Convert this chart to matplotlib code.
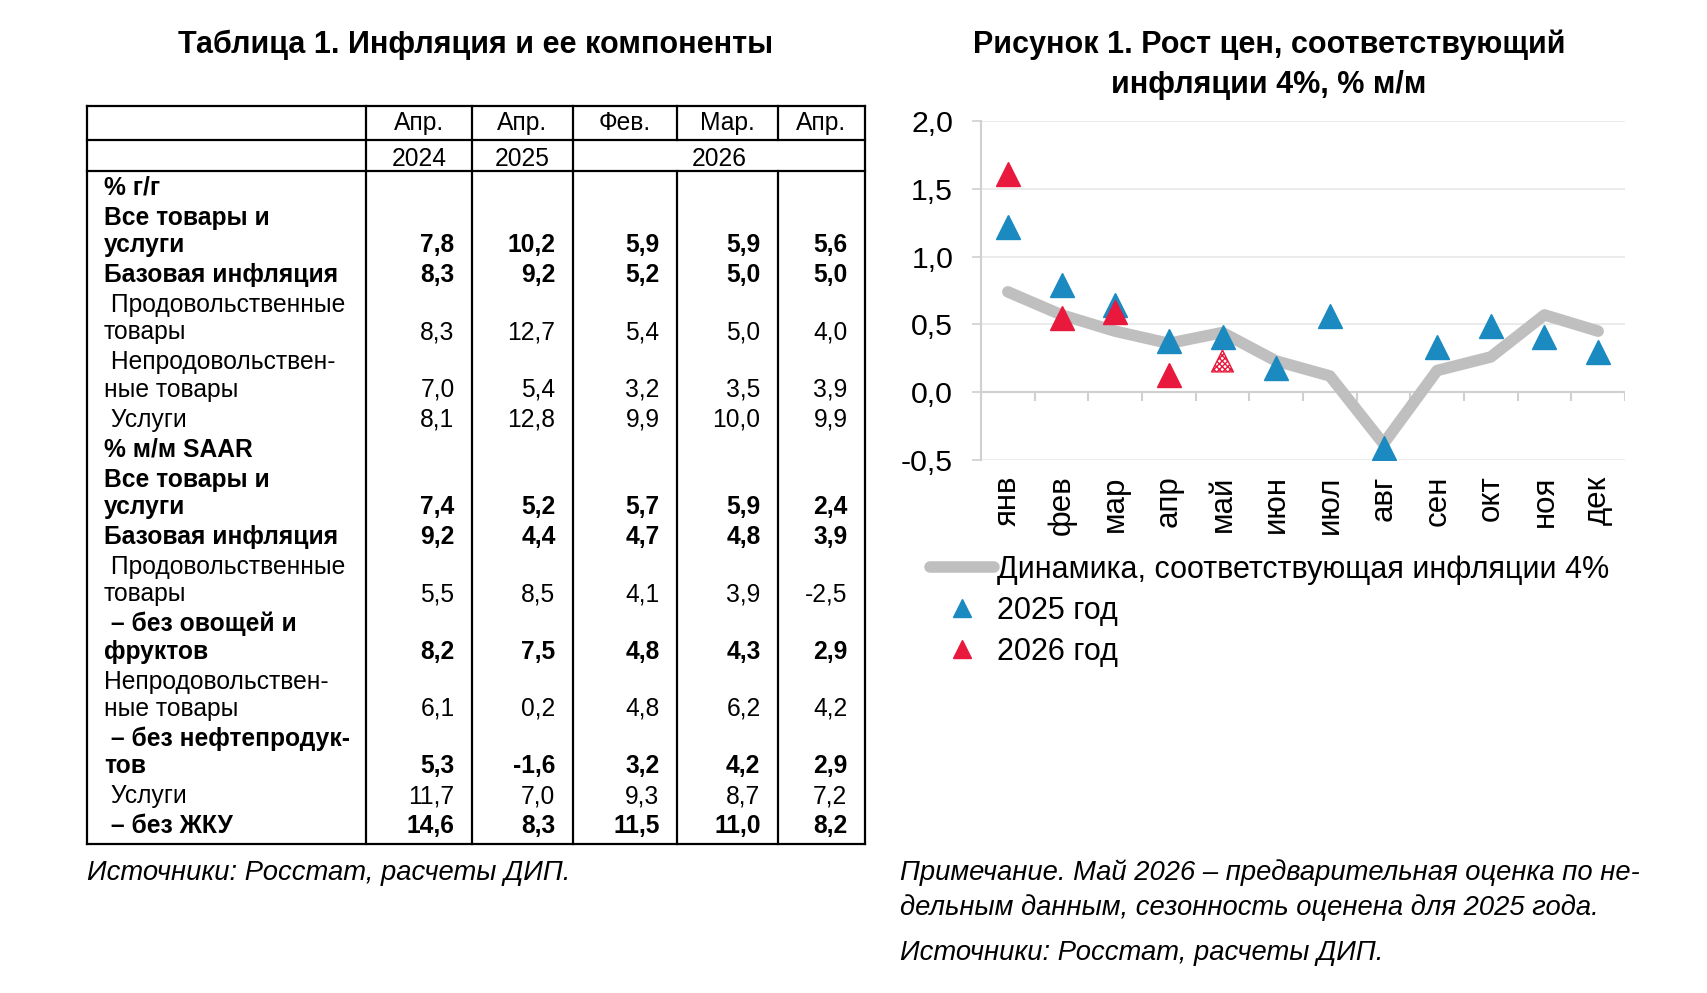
import numpy as np
import matplotlib
matplotlib.use('Agg')
import matplotlib.pyplot as plt
from matplotlib.lines import Line2D

plt.rcParams['font.family'] = ['Liberation Sans', 'DejaVu Sans']

W, H = 1707, 993
DPI = 100

# ---------------- DATA ----------------
table_title = 'Таблица 1. Инфляция и ее компоненты'
col_months = ['Апр.', 'Апр.', 'Фев.', 'Мар.', 'Апр.']
col_years = ['2024', '2025', '2026']
year_spans = [(0, 1), (1, 2), (2, 5)]

row_labels = [
    ['% г/г'],
    ['Все товары и', 'услуги'],
    ['Базовая инфляция'],
    [' Продовольственные', 'товары'],
    [' Непродовольствен-', 'ные товары'],
    [' Услуги'],
    ['% м/м SAAR'],
    ['Все товары и', 'услуги'],
    ['Базовая инфляция'],
    [' Продовольственные', 'товары'],
    [' – без овощей и', 'фруктов'],
    ['Непродовольствен-', 'ные товары'],
    [' – без нефтепродук-', 'тов'],
    [' Услуги'],
    [' – без ЖКУ'],
]
row_values = [
    None,
    [7.8, 10.2, 5.9, 5.9, 5.6],
    [8.3, 9.2, 5.2, 5.0, 5.0],
    [8.3, 12.7, 5.4, 5.0, 4.0],
    [7.0, 5.4, 3.2, 3.5, 3.9],
    [8.1, 12.8, 9.9, 10.0, 9.9],
    None,
    [7.4, 5.2, 5.7, 5.9, 2.4],
    [9.2, 4.4, 4.7, 4.8, 3.9],
    [5.5, 8.5, 4.1, 3.9, -2.5],
    [8.2, 7.5, 4.8, 4.3, 2.9],
    [6.1, 0.2, 4.8, 6.2, 4.2],
    [5.3, -1.6, 3.2, 4.2, 2.9],
    [11.7, 7.0, 9.3, 8.7, 7.2],
    [14.6, 8.3, 11.5, 11.0, 8.2],
]
row_bold = [True, True, True, False, False, False, True, True, True,
            False, True, False, True, False, True]
table_source = 'Источники: Росстат, расчеты ДИП.'

chart_title = ['Рисунок 1. Рост цен, соответствующий', 'инфляции 4%, % м/м']
months = ['янв', 'фев', 'мар', 'апр', 'май', 'июн', 'июл', 'авг', 'сен', 'окт', 'ноя', 'дек']
path_4pct = [0.74, 0.57, 0.45, 0.36, 0.44, 0.23, 0.12, -0.38, 0.16, 0.26, 0.57, 0.45]
mm_2025 = [1.22, 0.79, 0.64, 0.38, 0.41, 0.18, 0.56, -0.41, 0.33, 0.49, 0.41, 0.30]
mm_2026 = [1.61, 0.55, 0.59, 0.13]
mm_2026_est = [0.23]          # May 2026, preliminary estimate
yticks = [-0.5, 0.0, 0.5, 1.0, 1.5, 2.0]
legend_labels = ['Динамика, соответствующая инфляции 4%', '2025 год', '2026 год']
chart_note = ['Примечание. Май 2026 – предварительная оценка по не-',
              'дельным данным, сезонность оценена для 2025 года.']
chart_source = 'Источники: Росстат, расчеты ДИП.'

# ---------------- STYLE ----------------
C_GRAY = '#BFBFBF'
C_BLUE = '#1A8AC0'
C_RED = '#E8193C'
C_GRID = '#E8E8E8'
C_AX = '#D0D0D0'

FS_TITLE = 22
FS_TAB = 17.7
FS_TICK = 21.8
FS_LEG = 22
FS_NOTE = 19.7
MS = 17

def fmt(v):
    return f'{v:.1f}'.replace('.', ',')

fig = plt.figure(figsize=(W / DPI, H / DPI), dpi=DPI)
fig.patch.set_facecolor('white')

# overlay axes in pixel coordinates (for the table and texts)
bg = fig.add_axes([0, 0, 1, 1])
bg.set_xlim(0, W)
bg.set_ylim(H, 0)
bg.axis('off')

def T(x, yc, s, fs, **kw):
    # place text with its visual (cap) centre at yc
    off = 0.36 * fs * DPI / 72
    bg.text(x, yc + off, s, fontsize=fs, va='baseline', **kw)

# ---- table ----
T(476, 42, table_title, FS_TITLE, ha='center', fontweight='bold')

x_left = 87
col_edges = [366, 472, 573, 677, 778, 865]
x_right = col_edges[-1]
y_top, y_h1, y_h2, y_bot = 106, 140, 171, 844
lw_tab = 1.6
for yy in [y_top, y_h1, y_h2, y_bot]:
    bg.plot([x_left, x_right], [yy, yy], color='black', lw=lw_tab, solid_capstyle='projecting')
for xx in [x_left, x_right]:
    bg.plot([xx, xx], [y_top, y_bot], color='black', lw=lw_tab, solid_capstyle='projecting')
cols = list(zip(col_edges[:-1], col_edges[1:]))
span_edges = {cols[a][0] for a, b in year_spans}
for xx in col_edges[:-1]:
    bg.plot([xx, xx], [y_top, y_h1], color='black', lw=lw_tab)
    bg.plot([xx, xx], [y_h2, y_bot], color='black', lw=lw_tab)
    if xx in span_edges:
        bg.plot([xx, xx], [y_h1, y_h2], color='black', lw=lw_tab)

for (a, b), m in zip(cols, col_months):
    T((a + b) / 2, 121, m, FS_TAB, ha='center')
for (s0, s1), yv in zip(year_spans, col_years):
    T((cols[s0][0] + cols[s1 - 1][1]) / 2, 157, yv, FS_TAB, ha='center')

# body rows
y = 186
within, between = 27.3, 30.0
label_x = 104
for lines, vals, bold in zip(row_labels, row_values, row_bold):
    fw = 'bold' if bold else 'normal'
    for j, ln in enumerate(lines):
        if j > 0:
            y += within
        T(label_x, y, ln, FS_TAB, ha='left', fontweight=fw)
    if vals is not None:
        for (a, b), v in zip(cols, vals):
            T(b - 17.5, y, fmt(v), FS_TAB, ha='right', fontweight=fw)
    y += between

T(87, 870, table_source, FS_NOTE, ha='left', style='italic')

# ---- chart ----
for k, ln in enumerate(chart_title):
    T(1269, 42 + 40 * k, ln, FS_TITLE, ha='center', fontweight='bold')

ax_l, ax_r, ax_t, ax_b = 981, 1625, 121, 460
ax = fig.add_axes([ax_l / W, 1 - ax_b / H, (ax_r - ax_l) / W, (ax_b - ax_t) / H])
ax.set_facecolor('none')
x = np.arange(len(months))
ax.set_xlim(-0.5, len(months) - 0.5)
ax.set_ylim(yticks[0], yticks[-1])

for yt in yticks:
    if yt != 0:
        ax.axhline(yt, color=C_GRID, lw=1.2, zorder=0)
ax.axhline(0, color=C_AX, lw=1.5, zorder=1)
bounds = np.arange(-0.5, len(months) + 0.5, 1.0)
tick_len = 9 / (ax_b - ax_t) * (yticks[-1] - yticks[0])
ax.vlines(bounds[1:], -tick_len, 0, color=C_AX, lw=1.5, zorder=1)

for s in ['top', 'right', 'bottom']:
    ax.spines[s].set_visible(False)
ax.spines['left'].set_color(C_AX)
ax.spines['left'].set_linewidth(1.5)

ax.plot(x, path_4pct, color=C_GRAY, lw=8.3, solid_capstyle='round',
        solid_joinstyle='round', zorder=2)
ax.plot(x, mm_2025, ls='none', marker='^', ms=MS, color=C_BLUE, mec=C_BLUE, zorder=3)
ax.plot(x[:len(mm_2026)], mm_2026, ls='none', marker='^', ms=MS, color=C_RED,
        mec=C_RED, zorder=4)
ax.scatter(x[len(mm_2026):len(mm_2026) + len(mm_2026_est)], mm_2026_est, marker='^',
           s=MS ** 2 * 0.85, facecolor='white', edgecolor=C_RED, hatch='xxxxxx',
           linewidths=1.0, zorder=4)

ax.set_yticks(yticks)
ax.set_yticklabels([fmt(v) for v in yticks], fontsize=FS_TICK)
ax.tick_params(axis='y', length=6.5, width=1.2, color=C_AX, pad=13.5)
ax.set_xticks(x)
ax.set_xticklabels(months, rotation=90, fontsize=22.5, va='top')
ax.tick_params(axis='x', length=0, pad=11)

handles = [
    Line2D([], [], color=C_GRAY, lw=8.3, solid_capstyle='round'),
    Line2D([], [], ls='none', marker='^', ms=MS, color=C_BLUE),
    Line2D([], [], ls='none', marker='^', ms=MS, color=C_RED),
]
ax.legend(handles, legend_labels, loc='upper left',
          bbox_to_anchor=(930 / W, 1 - 555 / H), bbox_transform=fig.transFigure,
          frameon=False, borderpad=0, borderaxespad=0, handlelength=2.1,
          handletextpad=0.1, labelspacing=0.36, fontsize=FS_LEG, markerscale=0.75)

T(900, 870, chart_note[0], FS_NOTE, ha='left', style='italic')
T(900, 905, chart_note[1], FS_NOTE, ha='left', style='italic')
T(900, 950, chart_source, FS_NOTE, ha='left', style='italic')

fig.savefig('out.png', dpi=DPI, facecolor='white')
